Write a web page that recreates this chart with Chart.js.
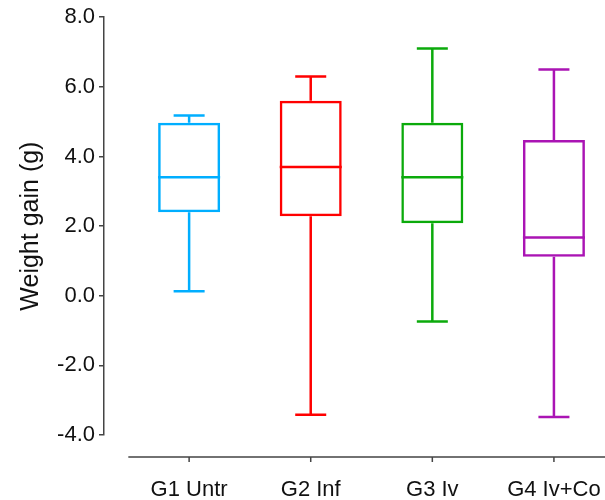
<!DOCTYPE html>
<html lang="en">
  <head>
    <meta charset="UTF-8" />
    <title>Weight gain</title>
    <script src="https://cdn.jsdelivr.net/npm/chart.js"></script>
    <style>
      html, body { margin: 0; padding: 0; background: #fff; overflow: hidden; }
      #wrap { width: 605px; height: 500px; }
    </style>
  </head>
  <body>
    <div id="wrap"><canvas id="boxes"></canvas></div>

    <script>
      // five-number summaries per group
      const groups = ["G1 Untr", "G2 Inf", "G3 Iv", "G4 Iv+Co"];
      const mins = [0.13, -3.42, -0.74, -3.48];
      const q1s = [2.4, 2.28, 2.08, 1.12];
      const medians = [3.4, 3.7, 3.4, 1.67];
      const q3s = [4.97, 5.6, 4.97, 4.47];
      const maxs = [5.18, 6.3, 7.1, 6.5];
      const yTicks = [-4, -2, 0, 2, 4, 6, 8];

      const colors = ["#00AEFF", "#FF0000", "#0BAA0B", "#AA14B4"];
      const axisColor = "#444";

      // whiskers, caps and medians on top of the box bars
      const whiskers = {
        id: "whiskers",
        afterDatasetsDraw(chart) {
          const ctx = chart.ctx;
          const y = chart.scales.y;
          const meta = chart.getDatasetMeta(0);
          meta.data.forEach(function (bar, i) {
            const cx = bar.x;
            const half = bar.width / 2;
            const cap = bar.width / 4;
            ctx.save();
            ctx.strokeStyle = colors[i];
            ctx.lineWidth = 2.5;
            ctx.beginPath();
            // median
            ctx.moveTo(cx - half, y.getPixelForValue(medians[i]));
            ctx.lineTo(cx + half, y.getPixelForValue(medians[i]));
            // upper whisker + cap
            ctx.moveTo(cx, y.getPixelForValue(q3s[i]));
            ctx.lineTo(cx, y.getPixelForValue(maxs[i]));
            ctx.moveTo(cx - cap, y.getPixelForValue(maxs[i]));
            ctx.lineTo(cx + cap, y.getPixelForValue(maxs[i]));
            // lower whisker + cap
            ctx.moveTo(cx, y.getPixelForValue(q1s[i]));
            ctx.lineTo(cx, y.getPixelForValue(mins[i]));
            ctx.moveTo(cx - cap, y.getPixelForValue(mins[i]));
            ctx.lineTo(cx + cap, y.getPixelForValue(mins[i]));
            ctx.stroke();
            ctx.restore();
          });
        },
        // detached x axis line with its tick marks
        afterDraw(chart) {
          const ctx = chart.ctx;
          const x = chart.scales.x;
          const yLine = chart.chartArea.bottom + 22;
          ctx.save();
          ctx.strokeStyle = axisColor;
          ctx.lineWidth = 1.5;
          ctx.beginPath();
          ctx.moveTo(x.getPixelForValue(0.5), yLine);
          ctx.lineTo(x.getPixelForValue(groups.length + 0.5), yLine);
          groups.forEach(function (_, i) {
            const px = x.getPixelForValue(i + 1);
            ctx.moveTo(px, yLine);
            ctx.lineTo(px, yLine + 5);
          });
          ctx.stroke();
          ctx.restore();
        },
      };

      new Chart(document.getElementById("boxes"), {
        type: "bar",
        data: {
          datasets: [
            {
              data: groups.map((_, i) => ({ x: i + 1, y: [q1s[i], q3s[i]] })),
              backgroundColor: "rgba(0,0,0,0)",
              borderColor: colors,
              borderWidth: 2.5,
              borderSkipped: false,
              categoryPercentage: 1,
              barPercentage: 0.51,
            },
          ],
        },
        options: {
          responsive: true,
          maintainAspectRatio: false,
          animation: false,
          layout: {
            autoPadding: false,
            padding: { top: 15, right: 0, bottom: 0, left: 0 },
          },
          plugins: {
            legend: { display: false },
            tooltip: { enabled: false },
          },
          scales: {
            x: {
              type: "linear",
              min: 0.3,
              max: 4.42,
              offset: false,
              bounds: "data",
              grid: { display: false, offset: false },
              border: { display: false },
              afterFit: (scale) => {
                scale.height = 65;
                scale.paddingLeft = 0;
                scale.paddingRight = 0;
              },
              afterBuildTicks: (scale) => {
                scale.ticks = groups.map((_, i) => ({ value: i + 1 }));
              },
              ticks: {
                padding: 34,
                autoSkip: false,
                maxRotation: 0,
                color: "#111",
                font: { family: "Liberation Sans", size: 22 },
                callback: (v) => groups[v - 1],
              },
            },
            y: {
              min: -4,
              max: 8,
              afterFit: (scale) => { scale.width = 104; },
              afterBuildTicks: (scale) => {
                scale.ticks = yTicks.map((v) => ({ value: v }));
              },
              grid: {
                drawOnChartArea: false,
                drawTicks: true,
                tickLength: 5,
                color: axisColor,
                lineWidth: 1.5,
              },
              border: { display: true, color: axisColor, width: 1.5 },
              ticks: {
                padding: 4,
                color: "#111",
                font: { family: "Liberation Sans", size: 22 },
                callback: (v) => v.toFixed(1),
              },
              title: {
                display: true,
                text: "Weight gain (g)",
                color: "#111",
                padding: { top: 16, bottom: 0 },
                font: { family: "Liberation Sans", size: 25 },
              },
            },
          },
        },
        plugins: [whiskers],
      });
    </script>
  </body>
</html>
